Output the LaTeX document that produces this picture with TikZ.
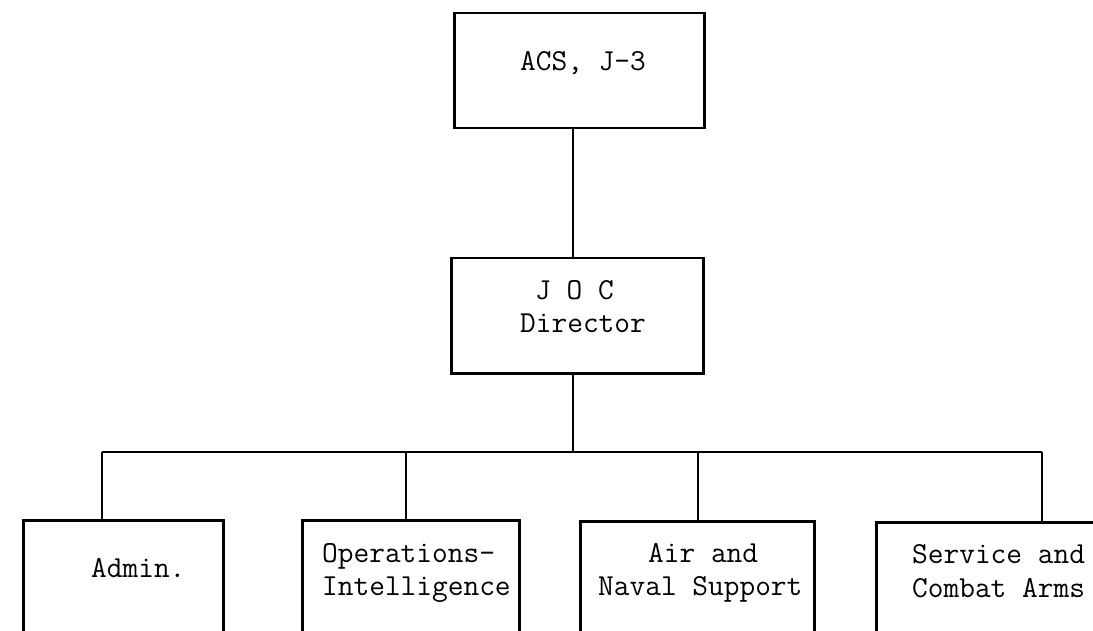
\documentclass[tikz,border=0pt]{standalone}
\usepackage{fontspec}
\begin{document}
\begin{tikzpicture}[x=1pt,y=-1pt,
  box/.style={draw=black, line width=2.5pt, rectangle, inner sep=0pt, anchor=north west},
  conn/.style={draw=black, line width=2.5pt},
  txt/.style={font=\ttfamily\fontsize{30.5}{34}\selectfont, inner sep=0pt, anchor=base west}]
\clip (0,0) rectangle (1093,631);
\fill[white] (0,0) rectangle (1093,631);
% boxes
\node[box, minimum width=250pt, minimum height=115pt] (acs) at (453,12) {};
\node[box, minimum width=252pt, minimum height=115pt] (joc) at (450,257) {};
\node[box, minimum width=200pt, minimum height=160pt] (adm) at (22,519) {};
\node[box, minimum width=217pt, minimum height=160pt] (ops) at (301,519) {};
\node[box, minimum width=234pt, minimum height=160pt] (air) at (579,520) {};
\node[box, minimum width=334pt, minimum height=160pt] (srv) at (875,521) {};
% texts
\node[txt] (acst) at (520,71) {ACS, J-3};
\node[txt] (joct1) at (535,299) {J O C};
\node[txt] (joct2) at (520,332) {Director};
\node[txt] (admt) at (91,577) {Admin.};
\node[txt] (opst1) at (322,562) {Operations-};
\node[txt] (opst2) at (322,595) {Intelligence};
\node[txt] (airt1) at (648,562) {Air and};
\node[txt] (airt2) at (598,595) {Naval Support};
\node[txt] (srvt1) at (912,563) {Service and};
\node[txt] (srvt2) at (912,597) {Combat Arms};
% connectors
\coordinate (bus) at (573,452);
\coordinate (d1) at (102,452);
\coordinate (d2) at (406,452);
\coordinate (d3) at (698,452);
\coordinate (d4) at (1042,452);
\draw[conn] (acs.south -| bus) -- (joc.north -| bus);
\draw[conn] (joc.south -| bus) -- (bus);
\draw[conn] (d1) -- (d4);
\draw[conn] (d1) -- (d1 |- adm.north);
\draw[conn] (d2) -- (d2 |- ops.north);
\draw[conn] (d3) -- (d3 |- air.north);
\draw[conn] (d4) -- (d4 |- srv.north);
\end{tikzpicture}
\end{document}
